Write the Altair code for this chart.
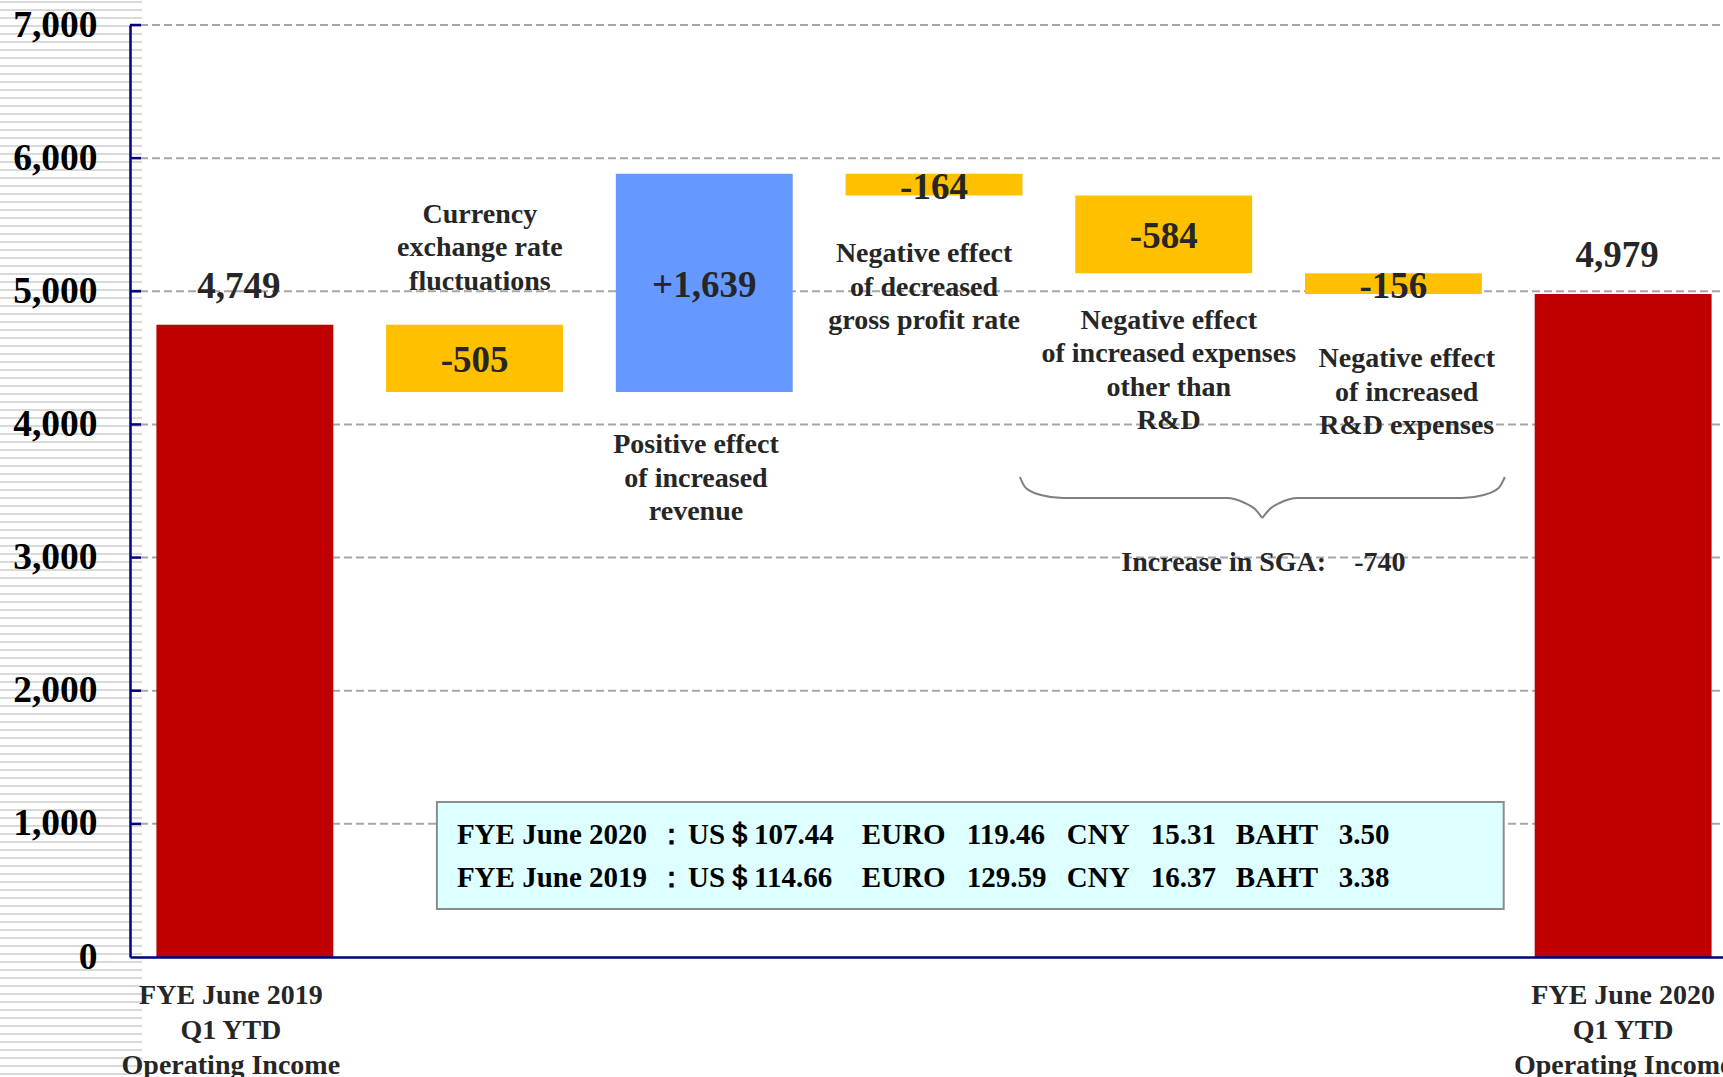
import altair as alt
import pandas as pd

# ---------------- data ----------------
categories = ["start", "fx", "revenue", "gross_profit", "other_sga", "rd_sga", "end"]
changes = [4749, -505, 1639, -164, -584, -156, 4979]
kinds = ["total", "neg", "pos", "neg", "neg", "neg", "total"]
value_labels = ["4,749", "-505", "+1,639", "-164", "-584", "-156", "4,979"]
axis_label_start = ["FYE June 2019", "Q1 YTD", "Operating Income"]
axis_label_end = ["FYE June 2020", "Q1 YTD", "Operating Income"]
y_ticks = [0, 1000, 2000, 3000, 4000, 5000, 6000, 7000]

annotation_texts = [
    "Currency\nexchange rate\nfluctuations",
    "Positive effect\nof increased\nrevenue",
    "Negative effect\nof decreased\ngross profit rate",
    "Negative effect\nof increased expenses\nother than\nR&D",
    "Negative effect\nof increased\nR&D expenses",
    "Increase in SGA:\u00a0\u00a0\u00a0\u00a0-740",
]
rates_2020 = ["FYE June 2020", "：", "US＄107.44", "EURO", "119.46", "CNY", "15.31", "BAHT", "3.50"]
rates_2019 = ["FYE June 2019", "：", "US＄114.66", "EURO", "129.59", "CNY", "16.37", "BAHT", "3.38"]

# ---------------- layout constants ----------------
FONT = "Liberation Serif"
W = 1593
H = 932
FULL_W = 1608
NAVY = "#000080"
TXT = "#262626"

# waterfall table
rows = []
running = 0
for c, v, k, lab in zip(categories, changes, kinds, value_labels):
    if k == "total":
        y0, y1 = 0, v
        running = v
    else:
        y0, y1 = running, running + v
        running += v
    rows.append({"cat": c, "y0": y0, "y1": y1, "kind": k, "label": lab,
                 "top": max(y0, y1), "mid": (y0 + y1) / 2})
bars_df = pd.DataFrame(rows)

x_band = alt.Scale(domain=categories, range=[0, FULL_W], paddingInner=0.23, paddingOuter=0.115)
u_scale = alt.Scale(domain=[0, 7], range=[0, FULL_W])
y_scale = alt.Scale(domain=[0, 7000], nice=False, zero=False)


def arr(lines):
    return "[" + ",".join("'" + s + "'" for s in lines) + "]"


label_expr = (f"datum.value == 'start' ? {arr(axis_label_start)} : "
              f"datum.value == 'end' ? {arr(axis_label_end)} : ''")

# background stripes on the left margin
stripes_df = pd.DataFrame({"py": list(range(2, 1077, 8))})
stripes = alt.Chart(stripes_df).mark_rule(color="#d9d9d9", strokeWidth=2).encode(
    y=alt.Y("py:Q", scale=alt.Scale(domain=[0, 1077], range=[-25, 1052]), axis=None),
    x=alt.value(-130), x2=alt.value(12),
)

ticks_df = pd.DataFrame({"v": y_ticks[1:]})
grid = alt.Chart(ticks_df).mark_rule(color="#a6a6a6", strokeWidth=2, strokeDash=[8, 4]).encode(
    y=alt.Y("v:Q", scale=y_scale, axis=None), x=alt.value(10), x2=alt.value(W),
)
tick_marks = alt.Chart(ticks_df).mark_rule(color=NAVY, strokeWidth=2.5).encode(
    y=alt.Y("v:Q", scale=y_scale, axis=None), x=alt.value(0), x2=alt.value(11),
)

bars = alt.Chart(bars_df).mark_bar().encode(
    x=alt.X("cat:N", scale=x_band, sort=categories, title=None,
            axis=alt.Axis(labelExpr=label_expr, labelFont=FONT, labelFontSize=28,
                          labelFontWeight="bold", labelColor=TXT, labelLineHeight=35,
                          labelPadding=24, labelAngle=0, labelLimit=600, labelOverlap=False,
                          labelOffset={"condition": {"test": "datum.value == 'start'", "value": -14},
                                       "value": 0},
                          ticks=False, domainColor=NAVY, domainWidth=2.5, zindex=2,
                          labelBaseline="top")),
    y=alt.Y("y0:Q", scale=y_scale, title=None,
            axis=alt.Axis(values=y_ticks, format=",d", labelFont=FONT, labelFontSize=37.5,
                          labelFontWeight="bold", labelColor="black", labelPadding=33,
                          ticks=False, grid=False, domainColor=NAVY, domainWidth=2.5,
                          zindex=2)),
    y2="y1:Q",
    color=alt.Color("kind:N", scale=alt.Scale(domain=["total", "neg", "pos"],
                                              range=["#C00000", "#FFC000", "#6699FF"]),
                    legend=None),
)

total_labels = alt.Chart(bars_df).transform_filter("datum.kind == 'total'").mark_text(
    font=FONT, fontSize=37, fontWeight="bold", color=TXT, baseline="alphabetic", dy=-27, dx=-6
).encode(
    x=alt.X("cat:N", scale=x_band, sort=categories, axis=None),
    y=alt.Y("top:Q", scale=y_scale, axis=None),
    text="label:N",
)
delta_labels = alt.Chart(bars_df).transform_filter("datum.kind != 'total'").mark_text(
    font=FONT, fontSize=37, fontWeight="bold", color=TXT, baseline="middle", dy=3
).encode(
    x=alt.X("cat:N", scale=x_band, sort=categories, axis=None),
    y=alt.Y("mid:Q", scale=y_scale, axis=None),
    text="label:N",
)

# y gives the middle of each annotation's first line
ann_df = pd.DataFrame({
    "text": annotation_texts,
    "u": [1.523, 2.464, 3.457, 4.522, 5.558, 4.934],
    "y": [5573, 3845, 5280, 4777, 4491, 2959],
})
annotations = alt.Chart(ann_df).mark_text(
    font=FONT, fontSize=28, fontWeight="bold", color=TXT, lineBreak="\n",
    lineHeight=33.5, baseline="middle", align="center"
).encode(
    x=alt.X("u:Q", scale=u_scale, axis=None),
    y=alt.Y("y:Q", scale=y_scale, axis=None),
    text="text:N",
)

# curly brace under the SGA items
brace_df = pd.DataFrame({
    "u": [3.874, 3.900, 3.965, 4.061, 4.775, 4.853, 4.897, 4.929,
          4.929, 4.962, 5.005, 5.084, 5.798, 5.893, 5.958, 5.985],
    "y": [3605, 3522, 3470, 3447, 3447, 3410, 3365, 3297,
          3297, 3365, 3410, 3447, 3447, 3470, 3522, 3605],
    "half": ["l"] * 8 + ["r"] * 8,
})
brace = alt.Chart(brace_df).mark_line(color="#7f7f7f", strokeWidth=2, interpolate="monotone").encode(
    x=alt.X("u:Q", scale=u_scale, axis=None),
    y=alt.Y("y:Q", scale=y_scale, axis=None),
    detail="half:N",
)

box_df = pd.DataFrame({"u1": [1.336], "u2": [5.980], "y1": [1164], "y2": [360]})
box = alt.Chart(box_df).mark_rect(fill="#DDFFFF", stroke="#8c8c8c", strokeWidth=2).encode(
    x=alt.X("u1:Q", scale=u_scale, axis=None), x2="u2:Q",
    y=alt.Y("y1:Q", scale=y_scale, axis=None), y2="y2:Q",
)

col_u = [1.423, 2.294, 2.429, 3.186, 3.643, 4.078, 4.444, 4.814, 5.262]
box_text_df = pd.DataFrame(
    [{"text": t, "u": u, "y": 845} for t, u in zip(rates_2020, col_u)]
    + [{"text": t, "u": u, "y": 526} for t, u in zip(rates_2019, col_u)]
)
box_text = alt.Chart(box_text_df).mark_text(
    font=FONT, fontSize=29, fontWeight="bold", color="black", align="left", baseline="alphabetic"
).encode(
    x=alt.X("u:Q", scale=u_scale, axis=None),
    y=alt.Y("y:Q", scale=y_scale, axis=None),
    text="text:N",
)

chart = alt.layer(
    stripes, grid, bars, tick_marks, total_labels, delta_labels, annotations, brace, box, box_text
).resolve_scale(x="independent", y="independent").properties(
    width=W, height=H,
    autosize=alt.AutoSizeParams(type="none"),
    padding={"left": 130, "top": 25, "right": 0, "bottom": 120},
    background="white",
).configure_view(stroke=None)

chart.save("out.html", embed_options={"renderer": "svg", "actions": False})
